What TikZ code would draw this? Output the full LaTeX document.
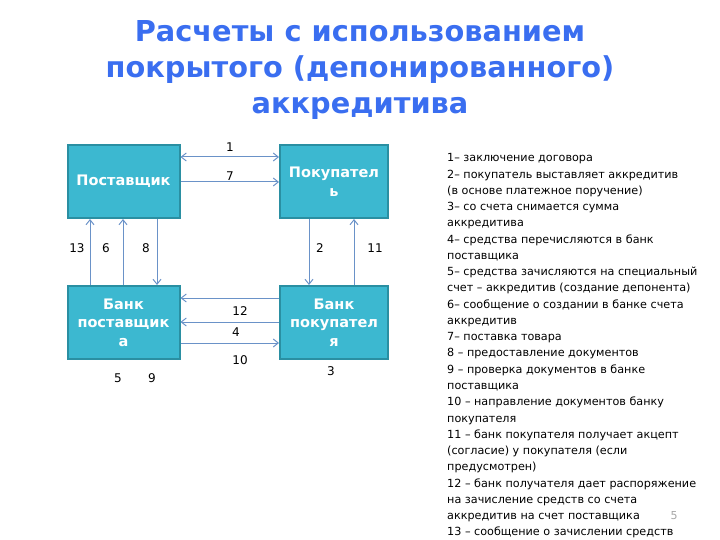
\documentclass[tikz,border=0pt]{standalone}
\usepackage{fontspec}
\setmainfont{DejaVu Sans}
\usetikzlibrary{arrows.meta}
\definecolor{titleblue}{HTML}{3A6EF0}
\definecolor{boxfill}{HTML}{3CB8D0}
\definecolor{boxedge}{HTML}{2A8FA2}
\definecolor{arrowc}{HTML}{6A92C8}
\tikzset{
  partybox/.style={draw=boxedge, line width=2pt, fill=boxfill, text=white,
    font=\fontsize{14.5}{18.5}\selectfont\bfseries, align=center, inner sep=0pt},
  flow/.style={draw=arrowc, line width=1pt, -{Straight Barb[length=5pt,width=8pt]}},
  flowboth/.style={draw=arrowc, line width=1pt, {Straight Barb[length=5pt,width=8pt]}-{Straight Barb[length=5pt,width=8pt]}},
  numlbl/.style={font=\fontsize{12}{14}\selectfont, text=black, inner sep=0pt},
  legend/.style={font=\fontsize{11.2}{16.26}\selectfont, align=left, anchor=north west, inner sep=0pt}
}
\begin{document}
\begin{tikzpicture}[x=1pt,y=-1pt]
\useasboundingbox (0,0) rectangle (720,540);
% title
\node[font=\fontsize{28.8}{36}\selectfont\bfseries, text=titleblue, align=center] (title) at (360,70)
  {Расчеты с использованием\\покрытого (депонированного)\\аккредитива};
% boxes
\node[partybox, minimum width=112pt, minimum height=73pt] (sup) at (123.5,181.5) {Поставщик};
\node[partybox, minimum width=108pt, minimum height=73pt] (buy) at (334,181.5) {Покупател\\ь};
\node[partybox, minimum width=112pt, minimum height=73pt] (bsup) at (123.5,322.5) {Банк\\поставщик\\а};
\node[partybox, minimum width=108pt, minimum height=73pt] (bbuy) at (334,322.5) {Банк\\покупател\\я};
% top horizontal
\draw[flowboth] (sup.east |- 0,157) -- (buy.west |- 0,157);
\draw[flow] (sup.east |- 0,182) -- (buy.west |- 0,182);
\node[numlbl] (l1) at (230,147) {1};
\node[numlbl] (l7) at (230,176) {7};
% left verticals
\draw[flow] (bsup.north -| 90,0) -- (sup.south -| 90,0);
\draw[flow] (bsup.north -| 123,0) -- (sup.south -| 123,0);
\draw[flow] (sup.south -| 157,0) -- (bsup.north -| 157,0);
\node[numlbl] (l13) at (77,248) {13};
\node[numlbl] (l6) at (106,248) {6};
\node[numlbl] (l8) at (146,248) {8};
% right verticals
\draw[flow] (buy.south -| 309,0) -- (bbuy.north -| 309,0);
\draw[flow] (bbuy.north -| 354,0) -- (buy.south -| 354,0);
\node[numlbl] (l2) at (320,248) {2};
\node[numlbl] (l11) at (375,248) {11};
% bottom horizontal
\draw[flow] (bbuy.west |- 0,298) -- (bsup.east |- 0,298);
\draw[flow] (bbuy.west |- 0,322) -- (bsup.east |- 0,322);
\draw[flow] (bsup.east |- 0,343) -- (bbuy.west |- 0,343);
\node[numlbl] (l12) at (240,311) {12};
\node[numlbl] (l4) at (236,332) {4};
\node[numlbl] (l10) at (240,360) {10};
\node[numlbl] (l5) at (118,378) {5};
\node[numlbl] (l9) at (152,378) {9};
\node[numlbl] (l3) at (331,371) {3};
% legend
\node[legend] (leg) at (447,153.5) {1– заключение договора\\
2– покупатель выставляет аккредитив\\
(в основе платежное поручение)\\
3– со счета снимается сумма\\
аккредитива\\
4– средства перечисляются в банк\\
поставщика\\
5– средства зачисляются на специальный\\
счет – аккредитив (создание депонента)\\
6– сообщение о создании в банке счета\\
аккредитив\\
7– поставка товара\\
8 – предоставление документов\\
9 – проверка документов в банке\\
поставщика\\
10 – направление документов банку\\
покупателя\\
11 – банк покупателя получает акцепт\\
(согласие) у покупателя (если\\
предусмотрен)\\
12 – банк получателя дает распоряжение\\
на зачисление средств со счета\\
аккредитив на счет поставщика\\
13 – сообщение о зачислении средств};
\node[font=\fontsize{11}{13}\selectfont, text=gray!70] (pg) at (674,516) {5};
\end{tikzpicture}
\end{document}
